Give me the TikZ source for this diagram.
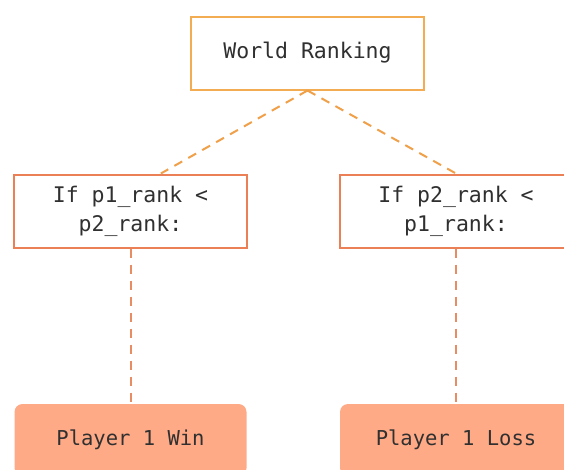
\documentclass[tikz,border=0pt]{standalone}
\usepackage{fontspec}
\setmonofont{DejaVu Sans Mono}
\usetikzlibrary{positioning}
\definecolor{rankorange}{RGB}{243,172,82}
\definecolor{ifred}{RGB}{235,128,86}
\definecolor{linkorange}{RGB}{240,160,72}
\definecolor{stemred}{RGB}{232,140,100}
\definecolor{leafsalmon}{RGB}{255,170,134}
\definecolor{txtgray}{RGB}{48,48,48}

\begin{document}
\begin{tikzpicture}[x=1pt, y=1pt,
  box/.style={draw, line width=2pt, fill=white, minimum width=233pt,
    minimum height=73pt, inner sep=0pt, align=center, text=txtgray,
    font=\ttfamily\fontsize{21.5}{29}\selectfont},
  leaf/.style={fill=leafsalmon, rounded corners=8pt, minimum width=232pt,
    minimum height=72pt, inner sep=0pt, text=txtgray,
    font=\ttfamily\fontsize{20.5}{26}\selectfont},
  link/.style={linkorange, line width=2pt, dash pattern=on 9pt off 7pt},
  stem/.style={stemred, line width=2pt, dash pattern=on 9pt off 7pt}]
  \clip (0,0) rectangle (564,-469);
  \useasboundingbox (0,0) rectangle (564,-469);

  \node[box, draw=rankorange] (rank) at (307.5,-53) {World Ranking};
  \node[box, draw=ifred] (if1) at (130.5,-211) {If p1\_rank <\\p2\_rank:};
  \node[box, draw=ifred] (if2) at (456,-211) {If p2\_rank <\\p1\_rank:};

  \node[leaf] (win) at (130.5,-440) {Player 1 Win};
  \node[leaf] (loss) at (456,-440) {Player 1 Loss};

  % dashed links
  \draw[link] (rank.south) -- (if1.51);
  \draw[link] (rank.south) -- (if2.north);
  \draw[stem] (if1.south) -- (win.north);
  \draw[stem] (if2.south) -- (loss.north);
\end{tikzpicture}
\end{document}
